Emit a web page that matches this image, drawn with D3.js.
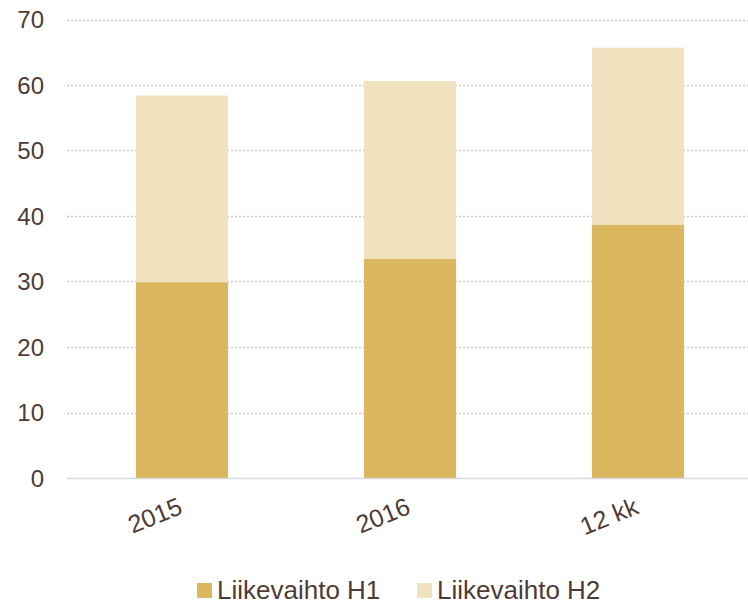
<!DOCTYPE html>
<html>
<head>
<meta charset="utf-8">
<script src="https://cdn.jsdelivr.net/npm/d3@7/dist/d3.min.js"></script>
<style>
  html, body { margin: 0; padding: 0; background: #fff; }
  svg { display: block; font-family: "Liberation Sans", Arial, sans-serif; }
</style>
</head>
<body>
<div id="chart"></div>
<script>
const categories = ['2015', '2016', '12 kk'];
const seriesNames = ['Liikevaihto H1', 'Liikevaihto H2'];
const h1Values = [29.9, 33.5, 38.7];
const h2Values = [28.5, 27.1, 27.0];
const yTicks = [0, 10, 20, 30, 40, 50, 60, 70];

const colors = ['#dbb85f', '#f1e2bf'];
const textColor = '#4f3b35';

const W = 748, H = 606;
const svg = d3.select('#chart').append('svg')
  .attr('width', W)
  .attr('height', H);

const rows = categories.map((c, i) => ({ cat: c, h1: h1Values[i], h2: h2Values[i] }));
const stack = d3.stack().keys(['h1', 'h2'])(rows);

const x = d3.scaleBand()
  .domain(categories)
  .range([68, 752])
  .paddingInner(0.596)
  .paddingOuter(0.298);

const y = d3.scaleLinear()
  .domain([0, 70])
  .range([478, 19.5]);

// gridlines
svg.append('g')
  .selectAll('line')
  .data(yTicks.filter(d => d > 0))
  .join('line')
  .attr('x1', 67)
  .attr('x2', W)
  .attr('y1', d => Math.round(y(d)) + 0.5)
  .attr('y2', d => Math.round(y(d)) + 0.5)
  .attr('stroke', '#c8c8c8')
  .attr('stroke-width', 1.5)
  .attr('stroke-dasharray', '2 2');

// y labels
svg.append('g')
  .selectAll('text')
  .data(yTicks)
  .join('text')
  .attr('x', 44)
  .attr('y', d => y(d))
  .attr('dy', '0.36em')
  .attr('text-anchor', 'end')
  .attr('font-size', 24)
  .attr('fill', textColor)
  .text(d => d);

// bars
svg.append('g')
  .selectAll('g')
  .data(stack)
  .join('g')
  .attr('fill', (d, i) => colors[i])
  .selectAll('rect')
  .data(d => d)
  .join('rect')
  .attr('x', d => x(d.data.cat))
  .attr('width', x.bandwidth())
  .attr('y', d => y(d[1]))
  .attr('height', d => y(d[0]) - y(d[1]));

// baseline
svg.append('line')
  .attr('x1', 67)
  .attr('x2', W)
  .attr('y1', y(0) + 0.5)
  .attr('y2', y(0) + 0.5)
  .attr('stroke', '#d9d9d9')
  .attr('stroke-width', 1.5);

// x labels, rotated
svg.append('g')
  .selectAll('text')
  .data(categories)
  .join('text')
  .attr('transform', d => `translate(${x(d) + x.bandwidth() / 2 + 2},${513}) rotate(-22)`)
  .attr('text-anchor', 'end')
  .attr('font-size', 25)
  .attr('fill', textColor)
  .text(d => d);

// legend
const legendX = [197, 417];
const legend = svg.append('g')
  .selectAll('g')
  .data(seriesNames)
  .join('g')
  .attr('transform', (d, i) => `translate(${legendX[i]},583)`);

legend.append('rect')
  .attr('width', 15)
  .attr('height', 15)
  .attr('fill', (d, i) => colors[i]);

legend.append('text')
  .attr('x', 20)
  .attr('y', 15.5)
  .attr('font-size', 26)
  .attr('fill', textColor)
  .text(d => d);
</script>
</body>
</html>
